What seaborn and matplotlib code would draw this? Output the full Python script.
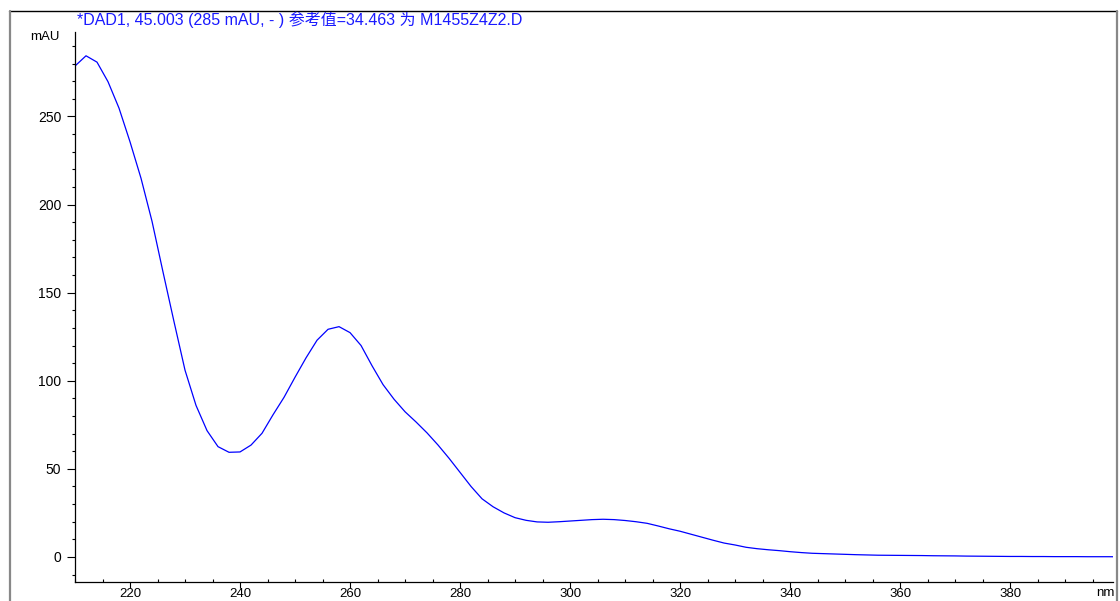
import numpy as np
import pandas as pd
import matplotlib
matplotlib.use("Agg")
import matplotlib.pyplot as plt
from matplotlib.lines import Line2D
from matplotlib.ticker import MultipleLocator
import seaborn as sns

wavelength = list(range(210, 401, 2))
absorbance = [
    278.6, 284.4, 280.8, 269.7, 254.7, 235.6, 214.9, 190.5, 161.7, 133.5,
    106.0, 86.0, 71.7, 62.6, 59.4, 59.6, 63.5, 70.2, 80.7, 90.6,
    102.0, 113.0, 123.0, 129.2, 130.7, 127.3, 120.0, 108.5, 97.8, 89.5,
    82.4, 76.6, 70.4, 63.5, 56.0, 48.0, 40.0, 33.0, 28.5, 25.0,
    22.3, 20.8, 19.9, 19.7, 20.0, 20.4, 20.8, 21.2, 21.4, 21.2,
    20.7, 20.0, 19.1, 17.6, 16.0, 14.6, 12.9, 11.2, 9.5, 7.9,
    6.8, 5.5, 4.7, 4.1, 3.6, 3.0, 2.5, 2.1, 1.9, 1.7,
    1.5, 1.3, 1.15, 1.0, 0.95, 0.9, 0.85, 0.8, 0.7, 0.65,
    0.6, 0.5, 0.45, 0.4, 0.35, 0.3, 0.3, 0.25, 0.25, 0.2,
    0.2, 0.2, 0.15, 0.15, 0.15, 0.1,
]
title_text = "*DAD1, 45.003 (285 mAU, - ) 参考值=34.463 为 M1455Z4Z2.D"
x_unit = "nm"
y_unit = "mAU"

df = pd.DataFrame({"wavelength": wavelength, "absorbance": absorbance})

sns.set_theme(style="white")
plt.rcParams["font.family"] = ["Liberation Sans", "Noto Sans CJK SC", "DejaVu Sans"]

W, H = 1120, 601
fig = plt.figure(figsize=(W / 100, H / 100), dpi=100)
fig.patch.set_facecolor("white")

def fx(px):
    return px / W

def fy(py):
    return 1 - py / H

ax = fig.add_axes([fx(75), fy(582), fx(1113) - fx(75), fy(32) - fy(582)])
ax.set_facecolor("white")

sns.lineplot(data=df, x="wavelength", y="absorbance", ax=ax, color="#0000ff",
             linewidth=0.9, estimator=None, sort=False)

ax.set_xlim(210, 398.7)
ax.set_ylim(-14.2, 297.9)
ax.set_xlabel("")
ax.set_ylabel("")

for s in ["top", "right"]:
    ax.spines[s].set_visible(False)
for s in ["left", "bottom"]:
    ax.spines[s].set_color("black")
    ax.spines[s].set_linewidth(0.9)

ax.xaxis.set_major_locator(MultipleLocator(20))
ax.xaxis.set_minor_locator(MultipleLocator(5))
ax.yaxis.set_major_locator(MultipleLocator(50))
ax.yaxis.set_minor_locator(MultipleLocator(10))

ax.tick_params(axis="x", which="major", direction="out", length=4.0, width=0.8,
               color="black", labelsize=9.5, pad=0.3, labelcolor="black")
ax.tick_params(axis="x", which="minor", direction="in", length=2.5, width=0.8,
               color="black")
ax.tick_params(axis="y", which="major", direction="out", length=5.8, width=0.8,
               color="black", labelsize=10, pad=4, labelcolor="black")
ax.tick_params(axis="y", which="minor", direction="out", length=2.5, width=0.8,
               color="black")
ax.tick_params(bottom=True, left=True, which="both")
ax.grid(False)

# unit labels
fig.text(fx(60), fy(37), y_unit, ha="right", va="center", fontsize=9.5, color="black")
fig.text(fx(1096), fy(593), x_unit, ha="left", va="center", fontsize=9.5, color="black")

# title
fig.text(fx(77), fy(19.5), title_text, ha="left", va="center", fontsize=11.5, color="#1a1aff")

# outer frame
fig.add_artist(Line2D([fx(9), fx(1117)], [fy(11), fy(11)], color="black", lw=1.0,
                      transform=fig.transFigure))
fig.add_artist(Line2D([fx(9.5), fx(9.5)], [fy(11), fy(605)], color="#888888", lw=1.6,
                      transform=fig.transFigure))
fig.add_artist(Line2D([fx(1116.5), fx(1116.5)], [fy(11), fy(605)], color="#888888", lw=1.6,
                      transform=fig.transFigure))

fig.savefig("out.png", dpi=100, facecolor="white")
